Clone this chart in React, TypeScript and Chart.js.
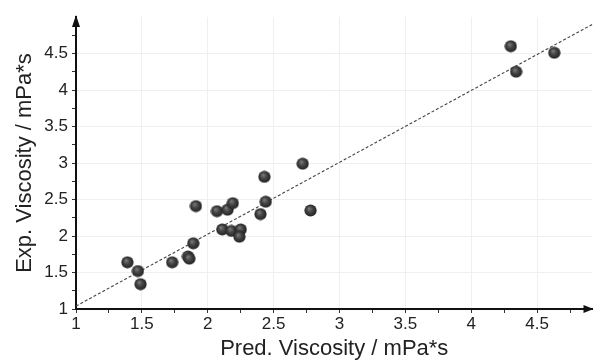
import React, { useEffect, useRef } from "react";
import { Chart, registerables } from "chart.js";

Chart.register(...registerables);

const predViscosity = [1.39, 1.47, 1.49, 1.73, 1.85, 1.86, 1.89, 1.91, 2.07, 2.11, 2.15, 2.19, 2.18, 2.25, 2.24, 2.40, 2.44, 2.43, 2.72, 2.78, 4.30, 4.34, 4.63];
const expViscosity = [1.64, 1.52, 1.34, 1.64, 1.72, 1.69, 1.90, 2.41, 2.34, 2.09, 2.36, 2.45, 2.07, 2.09, 1.99, 2.30, 2.47, 2.81, 2.99, 2.35, 4.60, 4.25, 4.51];

const fitX = [1.0, 4.92];
const fitY = [1.04, 4.9];

const xTicks = [1, 1.25, 1.5, 1.75, 2, 2.25, 2.5, 2.75, 3, 3.25, 3.5, 3.75, 4, 4.25, 4.5, 4.75];
const yTicks = [1, 1.25, 1.5, 1.75, 2, 2.25, 2.5, 2.75, 3, 3.25, 3.5, 3.75, 4, 4.25, 4.5, 4.75];
const xMajorLabels = ["1", "1.5", "2", "2.5", "3", "3.5", "4", "4.5"];
const yMajorLabels = ["1", "1.5", "2", "2.5", "3", "3.5", "4", "4.5"];

const xTitle = "Pred. Viscosity / mPa*s";
const yTitle = "Exp. Viscosity / mPa*s";

const FONT = "'Liberation Sans', Arial, sans-serif";

function makeDot(): HTMLCanvasElement {
  const s = 13;
  const c = document.createElement("canvas");
  c.width = s;
  c.height = s;
  const g = c.getContext("2d")!;
  const grad = g.createRadialGradient(5, 4.5, 0.3, 6.5, 6.5, 6.5);
  grad.addColorStop(0, "#7a7a7a");
  grad.addColorStop(0.45, "#444444");
  grad.addColorStop(1, "#1e1e1e");
  g.fillStyle = grad;
  g.beginPath();
  g.arc(6.5, 6.5, 6.1, 0, Math.PI * 2);
  g.fill();
  return c;
}

const isMajor = (v: number) => Math.abs(v * 2 - Math.round(v * 2)) < 1e-6;

function labelFor(v: number, labels: string[]): string {
  if (!isMajor(v)) return "";
  const s = String(v);
  return labels.includes(s) ? s : "";
}

const arrowPlugin = {
  id: "arrows",
  afterDraw(chart: any) {
    const { ctx, chartArea } = chart;
    const { left, top, right, bottom } = chartArea;
    ctx.save();
    ctx.fillStyle = "#111";
    ctx.beginPath();
    ctx.moveTo(left, top - 2);
    ctx.lineTo(left - 4, top + 10);
    ctx.lineTo(left + 4, top + 10);
    ctx.closePath();
    ctx.fill();
    ctx.beginPath();
    ctx.moveTo(right + 1, bottom);
    ctx.lineTo(right - 9, bottom - 4);
    ctx.lineTo(right - 9, bottom + 4);
    ctx.closePath();
    ctx.fill();
    ctx.restore();
  },
};

export default function App() {
  const ref = useRef<HTMLCanvasElement | null>(null);
  useEffect(() => {
    if (!ref.current) return;
    const dot = makeDot();
    const chart = new Chart(ref.current, {
      type: "scatter",
      data: {
        datasets: [
          {
            label: "data",
            data: predViscosity.map((x, i) => ({ x, y: expViscosity[i] })),
            pointStyle: dot as any,
            pointRadius: 6.5,
            showLine: false,
          },
          {
            label: "fit",
            data: fitX.map((x, i) => ({ x, y: fitY[i] })),
            showLine: true,
            borderColor: "#444",
            borderWidth: 1.1,
            borderDash: [3, 2],
            pointRadius: 0,
          },
        ],
      },
      options: {
        responsive: false,
        animation: false,
        events: [],
        layout: { padding: { top: 17, right: 1, left: 0, bottom: 0 } },
        plugins: { legend: { display: false }, tooltip: { enabled: false } },
        scales: {
          x: {
            type: "linear",
            min: 1,
            max: 4.92,
            afterBuildTicks: (scale: any) => {
              scale.ticks = xTicks.map((v) => ({ value: v }));
            },
            afterFit: (scale: any) => {
              scale.height = 51;
            },
            ticks: {
              autoSkip: false,
              maxRotation: 0,
              padding: 1,
              color: "#222",
              font: { family: FONT, size: 17 },
              callback: (v: any) => labelFor(Number(v), xMajorLabels),
            },
            grid: {
              color: (c: any) => (c.tick && isMajor(c.tick.value) && c.tick.value > 1 ? "#efefef" : "rgba(0,0,0,0)"),
              tickColor: "#333",
              tickLength: 4,
              lineWidth: 1,
            },
            border: { display: true, color: "#111", width: 2 },
            title: {
              display: true,
              text: xTitle,
              color: "#222",
              font: { family: FONT, size: 22, lineHeight: 1 },
              padding: { top: 0, bottom: 0 },
            },
          },
          y: {
            type: "linear",
            min: 1,
            max: 5,
            afterBuildTicks: (scale: any) => {
              scale.ticks = yTicks.map((v) => ({ value: v }));
            },
            afterFit: (scale: any) => {
              scale.width = 76;
            },
            ticks: {
              autoSkip: false,
              padding: 4,
              color: "#222",
              font: { family: FONT, size: 17 },
              callback: (v: any) => labelFor(Number(v), yMajorLabels),
            },
            grid: {
              color: (c: any) => (c.tick && isMajor(c.tick.value) && c.tick.value > 1 ? "#efefef" : "rgba(0,0,0,0)"),
              tickColor: "#333",
              tickLength: 4,
              lineWidth: 1,
            },
            border: { display: true, color: "#111", width: 2 },
            title: {
              display: true,
              text: yTitle,
              color: "#222",
              font: { family: FONT, size: 22, lineHeight: 1 },
              padding: { top: 14, bottom: 0 },
            },
          },
        },
      },
      plugins: [arrowPlugin],
    });
    return () => chart.destroy();
  }, []);
  return (
    <div style={{ position: "absolute", left: 0, top: 0, width: 600, height: 360, background: "#fff" }}>
      <canvas ref={ref} width={600} height={360} />
    </div>
  );
}
